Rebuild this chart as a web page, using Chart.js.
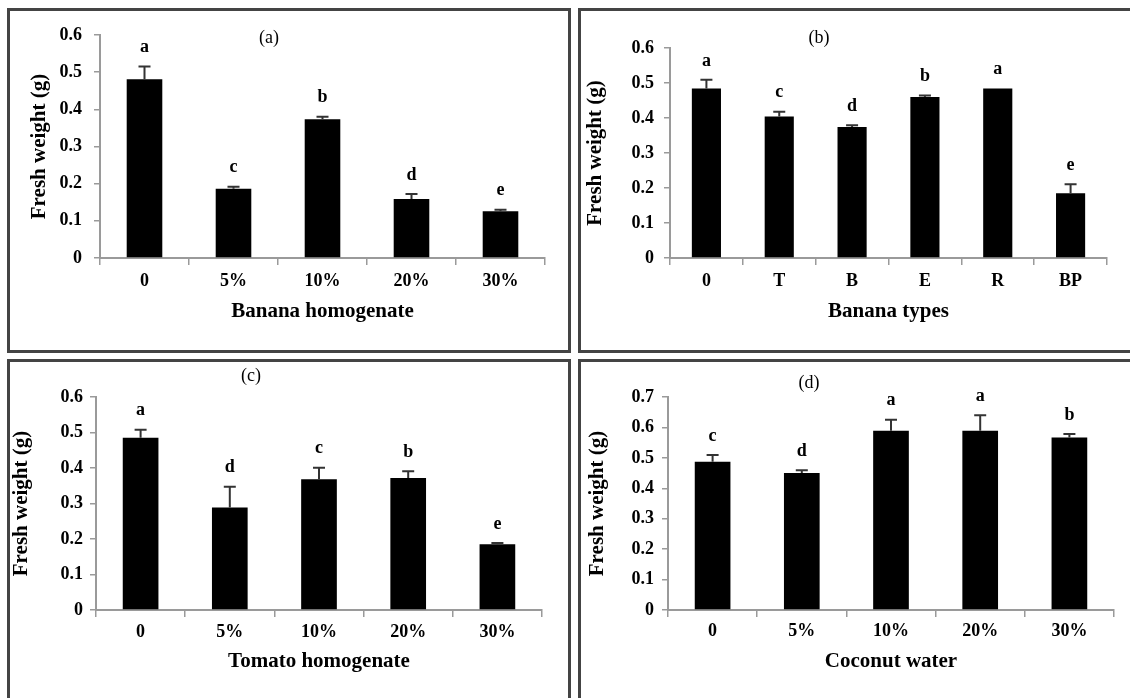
<!DOCTYPE html>
<html>
<head>
<meta charset="utf-8">
<script src="https://cdn.jsdelivr.net/npm/chart.js@4.4.0/dist/chart.umd.min.js"></script>
<style>
html, body { margin: 0; padding: 0; background: #fff; width: 1130px; height: 698px; overflow: hidden; position: relative; }
canvas { position: absolute; left: 0; top: 0; }
.box { position: absolute; box-sizing: border-box; border: 3px solid #444; }
.tag { position: absolute; font: 18px "Liberation Serif", serif; transform: translate(-50%, -50%); white-space: nowrap; }
</style>
</head>
<body>
<div class="box" style="left:7px;top:8px;width:564px;height:345px"></div>
<div class="box" style="left:578px;top:8px;width:600px;height:345px"></div>
<div class="box" style="left:7px;top:359px;width:564px;height:400px"></div>
<div class="box" style="left:578px;top:359px;width:600px;height:400px"></div>

<canvas id="chartA" width="1130" height="698"></canvas>
<canvas id="chartB" width="1130" height="698"></canvas>
<canvas id="chartC" width="1130" height="698"></canvas>
<canvas id="chartD" width="1130" height="698"></canvas>

<div class="tag" style="left:269px;top:37px">(a)</div>
<div class="tag" style="left:819px;top:37px">(b)</div>
<div class="tag" style="left:251px;top:375px">(c)</div>
<div class="tag" style="left:809px;top:382px">(d)</div>

<script>
// (a) Banana homogenate
const catsA = ['0', '5%', '10%', '20%', '30%'];
const meansA = [0.481, 0.186, 0.373, 0.159, 0.126];
const errsA = [0.034, 0.006, 0.007, 0.013, 0.004];
const lettersA = ['a', 'c', 'b', 'd', 'e'];

// (b) Banana types
const catsB = ['0', 'T', 'B', 'E', 'R', 'BP'];
const meansB = [0.484, 0.404, 0.374, 0.460, 0.484, 0.185];
const errsB = [0.025, 0.014, 0.005, 0.004, 0, 0.026];
const lettersB = ['a', 'c', 'd', 'b', 'a', 'e'];

// (c) Tomato homogenate
const catsC = ['0', '5%', '10%', '20%', '30%'];
const meansC = [0.485, 0.289, 0.368, 0.372, 0.185];
const errsC = [0.023, 0.058, 0.033, 0.019, 0.004];
const lettersC = ['a', 'd', 'c', 'b', 'e'];

// (d) Coconut water
const catsD = ['0', '5%', '10%', '20%', '30%'];
const meansD = [0.487, 0.450, 0.589, 0.589, 0.567];
const errsD = [0.022, 0.009, 0.036, 0.051, 0.011];
const lettersD = ['c', 'd', 'a', 'a', 'b'];

const yTicks6 = ['0', '0.1', '0.2', '0.3', '0.4', '0.5', '0.6'];
const yTicks7 = ['0', '0.1', '0.2', '0.3', '0.4', '0.5', '0.6', '0.7'];

const yTitle = 'Fresh weight (g)';

Chart.defaults.font.family = '"Liberation Serif", "Times New Roman", serif';
Chart.defaults.color = '#000';

const AXIS = '#9a9a9a';
const TITLE_SIZE = 21;
const TICK_SIZE = 18;

function makePanel(id, cats, means, errs, letters, yTicks, yMax, xTitle, g) {
    // error bars + significance letters
    const marks = {
        id: 'marks' + id,
        afterDatasetsDraw(chart) {
            const ctx = chart.ctx;
            const y = chart.scales.y;
            const bars = chart.getDatasetMeta(0).data;
            ctx.save();
            bars.forEach((bar, i) => {
                const top = y.getPixelForValue(means[i] + errs[i]);
                if (errs[i] > 0) {
                    ctx.strokeStyle = '#333';
                    ctx.lineWidth = 2;
                    ctx.beginPath();
                    ctx.moveTo(bar.x, bar.y);
                    ctx.lineTo(bar.x, top);
                    ctx.moveTo(bar.x - 6, top);
                    ctx.lineTo(bar.x + 6, top);
                    ctx.stroke();
                }
                ctx.fillStyle = '#000';
                ctx.font = 'bold 18px "Liberation Serif", serif';
                ctx.textAlign = 'center';
                ctx.textBaseline = 'middle';
                ctx.fillText(letters[i], bar.x, top - 19);
            });
            ctx.restore();
        }
    };

    new Chart(document.getElementById(id), {
        type: 'bar',
        data: {
            labels: cats,
            datasets: [{
                data: means,
                backgroundColor: '#000',
                barPercentage: 0.4,
                categoryPercentage: 1
            }]
        },
        options: {
            responsive: false,
            animation: false,
            events: [],
            layout: {
                padding: { left: g.padL, top: g.top, right: 1130 - g.right, bottom: 698 - g.zero - g.xH }
            },
            plugins: { legend: { display: false }, tooltip: { enabled: false } },
            scales: {
                x: {
                    grid: { drawOnChartArea: false, drawTicks: true, tickLength: 7, color: AXIS, lineWidth: 1.5 },
                    border: { color: AXIS, width: 2 },
                    ticks: { font: { size: TICK_SIZE, weight: 'bold' }, padding: g.xPad, maxRotation: 0, autoSkip: false },
                    title: { display: true, text: xTitle, font: { size: TITLE_SIZE, weight: 'bold' }, padding: 0 },
                    afterFit: s => { s.height = g.xH; }
                },
                y: {
                    min: 0,
                    max: yMax,
                    grid: { drawOnChartArea: false, drawTicks: true, tickLength: 6, color: AXIS, lineWidth: 1.5 },
                    border: { color: AXIS, width: 2 },
                    ticks: { stepSize: 0.1, font: { size: TICK_SIZE, weight: 'bold' }, padding: g.yPad, callback: (v, i) => yTicks[i] },
                    title: { display: true, text: yTitle, font: { size: TITLE_SIZE, weight: 'bold' }, padding: 0 },
                    afterFit: s => { s.width = g.axis - g.padL; }
                }
            }
        },
        plugins: [marks]
    });
}

const half = TITLE_SIZE * 1.2 / 2;

makePanel('chartA', catsA, meansA, errsA, lettersA, yTicks6, 0.6, 'Banana homogenate',
    { padL: 40 - half, axis: 100, right: 545, top: 35, zero: 258, xH: 312 - 258 + half, xPad: 6, yPad: 12 });
makePanel('chartB', catsB, meansB, errsB, lettersB, yTicks6, 0.6, 'Banana types',
    { padL: 596 - half, axis: 670, right: 1107, top: 48, zero: 258, xH: 312 - 258 + half, xPad: 6, yPad: 10 });
makePanel('chartC', catsC, meansC, errsC, lettersC, yTicks6, 0.6, 'Tomato homogenate',
    { padL: 22 - half, axis: 96, right: 542, top: 397, zero: 610, xH: 662 - 610 + half, xPad: 5, yPad: 7 });
makePanel('chartD', catsD, meansD, errsD, lettersD, yTicks7, 0.7, 'Coconut water',
    { padL: 598 - half, axis: 668, right: 1114, top: 397, zero: 610, xH: 662 - 610 + half, xPad: 4, yPad: 8 });
</script>
</body>
</html>
